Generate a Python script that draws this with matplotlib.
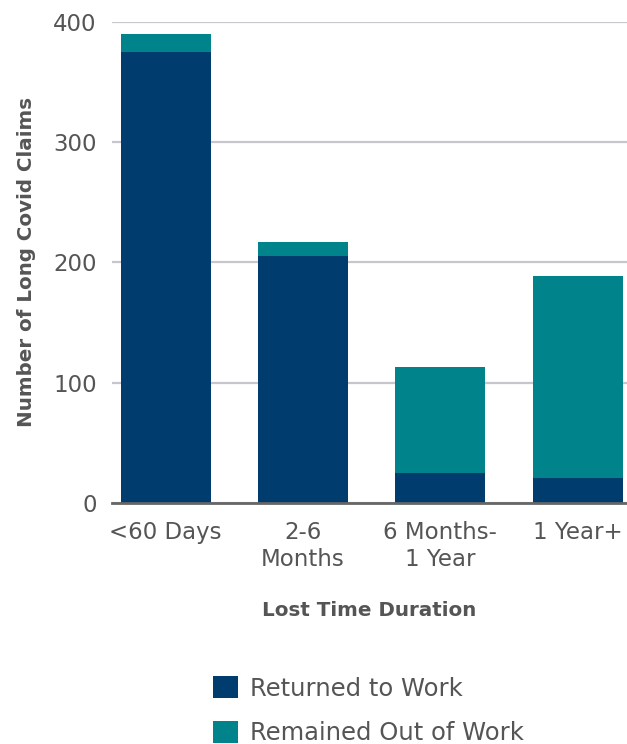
import matplotlib
matplotlib.use("Agg")
import matplotlib.pyplot as plt
from matplotlib.patches import Patch

categories = ["<60 Days", "2-6\nMonths", "6 Months-\n1 Year", "1 Year+"]
returned = [375, 205, 25, 21]
remained = [15, 12, 88, 168]
series_names = ["Returned to Work", "Remained Out of Work"]
y_ticks = [0, 100, 200, 300, 400]

navy = "#003d6e"
teal = "#00838a"
text_gray = "#555555"

plt.rcParams["font.family"] = ["DejaVu Sans"]

fig = plt.figure(figsize=(6.27, 7.44), dpi=100)
ax = fig.add_axes([0.1786, 0.324, 0.8214, 0.6466])

x = list(range(len(categories)))
ax.bar(x, returned, width=0.655, color=navy, zorder=3)
ax.bar(x, remained, width=0.655, bottom=returned, color=teal, zorder=3)

ax.set_ylim(0, 400)
ax.set_xlim(-0.39, 3.36)
ax.set_yticks(y_ticks)
ax.set_xticks(x)
ax.set_xticklabels(categories, linespacing=1.25)
ax.tick_params(axis="both", length=0, colors=text_gray, labelsize=16.5)
ax.tick_params(axis="y", pad=11)
ax.tick_params(axis="x", pad=13)

ax.grid(axis="y", color="#c6c6ce", linewidth=1.6, zorder=0)
for side in ["top", "right", "left"]:
    ax.spines[side].set_visible(False)
ax.spines["bottom"].set_color("#666666")
ax.spines["bottom"].set_linewidth(2)
ax.spines["bottom"].set_zorder(4)

ax.set_ylabel("Number of Long Covid Claims", fontsize=14.3, fontweight="bold",
              color=text_gray, labelpad=12)
ax.set_xlabel("Lost Time Duration", fontsize=14.3, fontweight="bold",
              color=text_gray, labelpad=21)

handles = [Patch(facecolor=navy), Patch(facecolor=teal)]
leg = fig.legend(handles, series_names, loc="upper left",
                 bbox_to_anchor=(0.325, 0.104), frameon=False,
                 fontsize=17.5, handlelength=1.0, handleheight=1.0,
                 handletextpad=0.5, labelspacing=0.85,
                 labelcolor=text_gray, borderaxespad=0)

fig.savefig("out.png", dpi=100)
